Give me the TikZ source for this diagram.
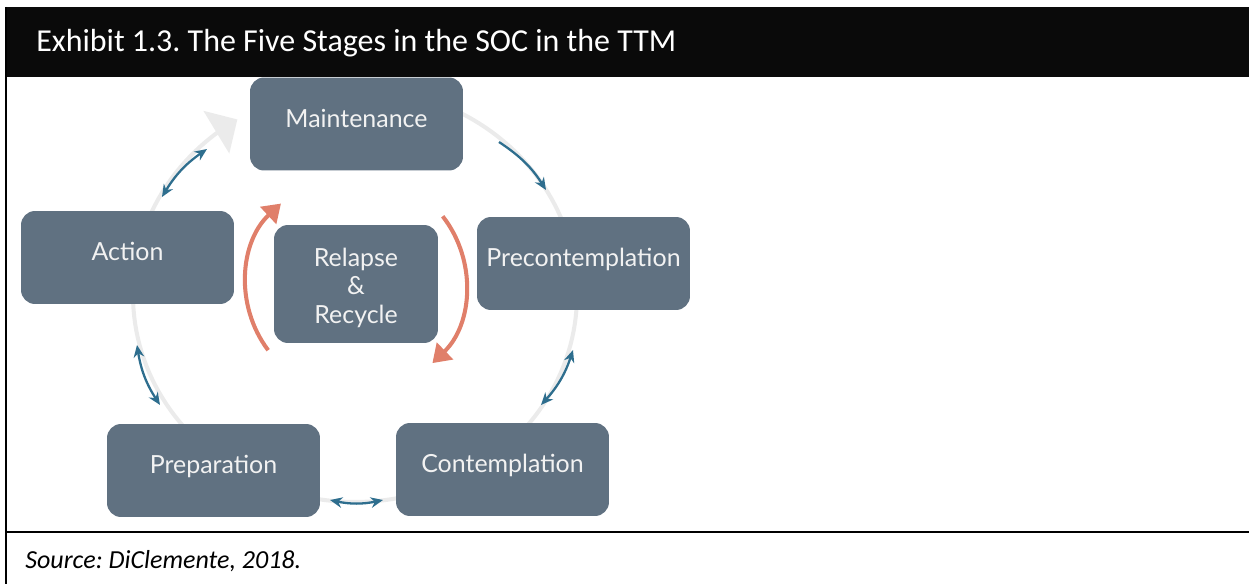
\documentclass[tikz,border=0pt]{standalone}
\usepackage{fontspec}
\usepackage{tikz}
\usepackage{xcolor}
\usetikzlibrary{
    arrows.meta,
    positioning
}
\setmainfont{Carlito}
\newfontfamily\stagefont{Lato}
\definecolor{stagefill}{HTML}{607181}
\definecolor{stagetext}{HTML}{F2F2F2}
\definecolor{ringgrey}{HTML}{EBEBEB}
\definecolor{linkblue}{HTML}{2E6E8E}
\definecolor{relapseorange}{HTML}{E07F6A}
\frenchspacing

\begin{document}
\begin{tikzpicture}[x=0.02cm, y=-0.02cm,
    stage/.style={fill=stagefill, text=stagetext, rounded corners=0.28cm,
        minimum width=4.26cm, minimum height=1.86cm, inner sep=0pt,
        font=\stagefont\fontsize{14.2}{17}\selectfont,
        text height=0.8em, text depth=0.45em},
    link/.style={linkblue, line width=1.3pt, bend left=12},
    twoway/.style={link, {Stealth[length=7pt,width=6pt]}-{Stealth[length=7pt,width=6pt]}},
    oneway/.style={link, -{Stealth[length=7pt,width=6pt]}},
    relapse/.style={relapseorange, line width=2.3pt, -{Triangle[length=10pt,width=13pt]}}]
                        \useasboundingbox (0, 0) rectangle (1249, 584);
                        \fill[black!96] (5, 7) rectangle (1249, 77);
                        \draw[line width=1.2pt]
                        (6, 7) -- (6, 584)
                        (6, 532) -- (1249, 532);
                        \node[anchor=base west, inner sep=0pt, text=white, font=\fontsize{18.2}{22}\selectfont] (title) at (36, 52) {Exhibit 1.3. The Five Stages in the SOC in the TTM};
                        \node[anchor=base west, inner sep=0pt, font=\itshape\fontsize{14.8}{18}\selectfont] (source) at (25, 568) {Source: DiClemente, 2018.};
                        \draw[ringgrey, line width=2.3pt, -{Triangle[length=14pt,width=28pt]}]
                        plot[domain=-80:238, samples=160] ({355 + 222*cos(\x)}, {295 + 207*sin(\x)});
                        \node[stage] (maintenance) at (356.5, 124) {Maintenance};
                        \node[stage] (precontemplation) at (583.5, 263.5) {Precontemplation};
                        \node[stage] (contemplation) at (502.5, 469.5) {Contemplation};
                        \node[stage] (preparation) at (213.5, 470.5) {Preparation};
                        \node[stage] (action) at (127.5, 257.5) {Action};
                        \node[stage, minimum width=3.28cm, minimum height=2.36cm, align=center,
                            font=\stagefont\fontsize{14.2}{16}\selectfont,
                            text height=46.4pt, text depth=2pt] (relapse) at (356, 284) {Relapse\\\&\\Recycle};
                        \coordinate (a1) at (162, 197);
                        \coordinate (a2) at (207, 149);
                        \coordinate (m1) at (499, 142);
                        \coordinate (m2) at (546, 190);
                        \coordinate (p1) at (573, 350);
                        \coordinate (p2) at (541, 405);
                        \coordinate (c1) at (383, 500);
                        \coordinate (c2) at (330, 500);
                        \coordinate (r1) at (160, 405);
                        \coordinate (r2) at (137, 345);
                        \draw[twoway] (a1) to (a2);
                        \draw[oneway] (m1) to (m2);
                        \draw[twoway] (p1) to (p2);
                        \draw[twoway] (c1) to (c2);
                        \draw[twoway] (r1) to (r2);
                        \draw[relapse] ([shift={(143:110)}]relapse.center) arc[start angle=143, end angle=227, radius=110];
                        \draw[relapse] ([shift={(-38:110)}]relapse.center) arc[start angle=-38, end angle=46, radius=110];
                    \end{tikzpicture}
\end{document}
